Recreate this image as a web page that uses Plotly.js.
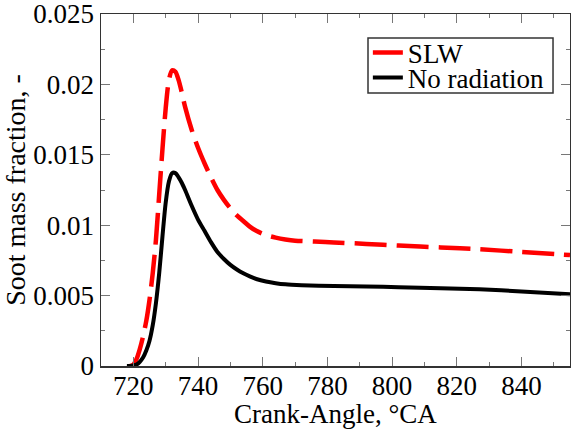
<!DOCTYPE html>
<html>
<head>
<meta charset="utf-8">
<script src="https://cdn.plot.ly/plotly-3.0.1.min.js"></script>
<style>html,body{margin:0;padding:0;background:#fff;}#chart{width:571px;height:429px;}</style>
</head>
<body>
<div id="chart"></div>
<script>
// Crank angle (°CA) and soot mass fraction
const slwAngle = [719, 720, 721, 722, 723, 724, 725, 726, 727, 728, 729, 730, 731, 732, 733, 734, 735, 736, 738, 740, 742, 744, 746, 748, 750, 752, 754, 756, 758, 761, 764, 767, 770, 776, 782, 792, 802, 815, 827, 840, 855];
const slwSoot  = [0, 0.0001, 0.0005, 0.0012, 0.0021, 0.0032, 0.0047, 0.0066, 0.0090, 0.0122, 0.0154, 0.0183, 0.0203, 0.0210, 0.0209, 0.0203, 0.0194, 0.0184, 0.0168, 0.0155, 0.0144, 0.0134, 0.0125, 0.0118, 0.0112, 0.0107, 0.0103, 0.0099, 0.0096, 0.0093, 0.00912, 0.00899, 0.0089, 0.00884, 0.00878, 0.00867, 0.00855, 0.00842, 0.00829, 0.00810, 0.00788];

const noRadAngle = [718, 719, 720, 721, 722, 723, 724, 725, 726, 727, 728, 729, 730, 731, 732, 733, 734, 735, 736, 738, 740, 742, 744, 746, 748, 750, 752, 754, 756, 758, 761, 764, 767, 772, 782, 792, 802, 815, 827, 840, 855];
const noRadSoot  = [0, 0, 0.00003, 0.0001, 0.0003, 0.0006, 0.0011, 0.0018, 0.0029, 0.0045, 0.0066, 0.0092, 0.0116, 0.0131, 0.0137, 0.0137, 0.0134, 0.0130, 0.0125, 0.0114, 0.0104, 0.0096, 0.0088, 0.0081, 0.0076, 0.00718, 0.00685, 0.00658, 0.00636, 0.00618, 0.0060, 0.00588, 0.0058, 0.00574, 0.00568, 0.00564, 0.0056, 0.00553, 0.00545, 0.0053, 0.0051];

const xTicks = [720, 740, 760, 780, 800, 820, 840];
const yTicks = [0, 0.005, 0.01, 0.015, 0.02, 0.025];
const yTickText = ['0', '0.005', '0.01', '0.015', '0.02', '0.025'];

const font = '"Liberation Serif"';

const traces = [
  {x: slwAngle, y: slwSoot, name: 'SLW', mode: 'lines', legend: 'legend',
   line: {color: '#ff0000', width: 4.5, dash: '32px,10px', shape: 'spline', smoothing: 0.8}},
  {x: noRadAngle, y: noRadSoot, name: 'No radiation', mode: 'lines', legend: 'legend2',
   line: {color: '#000000', width: 4, shape: 'spline', smoothing: 0.8}}
];

const axisCommon = {
  showline: true, linecolor: '#333', linewidth: 1.5, mirror: 'ticks',
  ticks: 'inside', ticklen: 9, tickwidth: 1, tickcolor: '#777',
  showgrid: false, zeroline: false, ticklabeloverflow: 'allow',
  tickfont: {family: font, size: 27, color: '#000'}
};

const legendCommon = {
  xanchor: 'left', yanchor: 'middle', borderwidth: 0, bgcolor: 'rgba(0,0,0,0)',
  font: {family: font, size: 27, color: '#000'}, itemwidth: 30
};

const layout = {
  width: 571, height: 429,
  margin: {l: 101, r: 1, t: 14, b: 63},
  paper_bgcolor: '#fff', plot_bgcolor: '#fff',
  font: {family: font, size: 27, color: '#000'},
  showlegend: true,
  legend: Object.assign({}, legendCommon, {x: 0.569, y: 0.889}),
  legend2: Object.assign({}, legendCommon, {x: 0.569, y: 0.818}),
  shapes: [{type: 'rect', xref: 'paper', yref: 'paper', x0: 0.5693, x1: 0.9638, y0: 0.7756, y1: 0.9318,
    line: {color: '#333', width: 1.5}, fillcolor: 'rgba(0,0,0,0)', layer: 'above'}],
  xaxis: Object.assign({}, axisCommon, {
    range: [710, 855], tickvals: xTicks, ticktext: xTicks.map(String), ticklabelstandoff: -5,
    minor: {dtick: 10, tick0: 710, ticklen: 4, ticks: 'inside', tickcolor: '#777'},
    title: {text: 'Crank-Angle, °CA', font: {family: font, size: 27, color: '#000'}, standoff: 4}
  }),
  yaxis: Object.assign({}, axisCommon, {
    range: [0, 0.0250001], tickvals: yTicks, ticktext: yTickText,
    minor: {dtick: 0.0025, tick0: 0, ticklen: 4, ticks: 'inside', tickcolor: '#777'},
    title: {text: 'Soot mass fraction, -', font: {family: font, size: 28, color: '#000'}, standoff: 4}
  })
};

Plotly.newPlot('chart', traces, layout, {displayModeBar: false, staticPlot: true});
</script>
</body>
</html>
